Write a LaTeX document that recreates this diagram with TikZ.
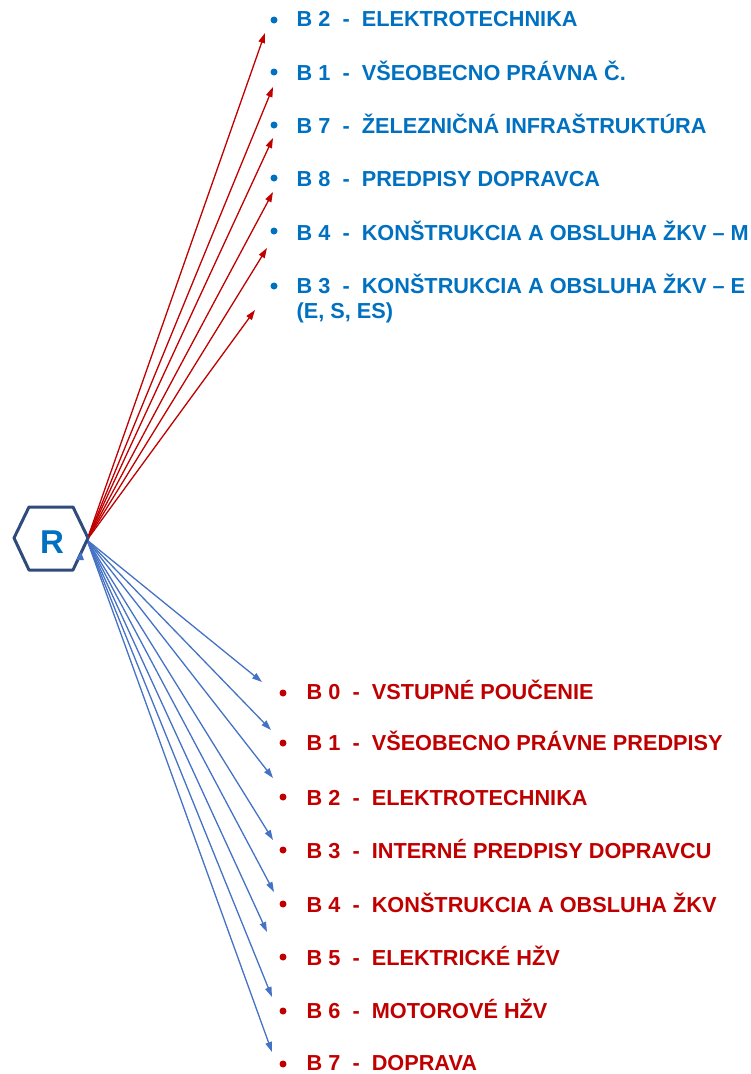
\documentclass[tikz,border=0pt]{standalone}
\usepackage{fontspec}
\setmainfont{Liberation Sans}
\usetikzlibrary{arrows.meta}
\definecolor{tblue}{HTML}{0070C0}
\definecolor{tred}{HTML}{C00000}
\definecolor{ablue}{HTML}{4472C4}
\definecolor{hexc}{HTML}{2F4B7C}
\newcommand{\gapsp}{\hspace{0.556em}}
\begin{document}
\begin{tikzpicture}[x=1pt,y=-1pt,
  lbl/.style={anchor=base west, inner sep=0pt, align=left,
    font=\fontsize{21.7}{25}\selectfont\bfseries},
  toplbl/.style={lbl, text=tblue},
  botlbl/.style={lbl, text=tred},
  bul/.style={circle, inner sep=0pt, minimum size=7pt},
  topbul/.style={bul, fill=tblue},
  botbul/.style={bul, fill=tred},
  redarr/.style={draw=tred, line width=1.3pt, -{Triangle[length=10pt,width=6.5pt]}},
  bluearr/.style={draw=ablue, line width=1.3pt, -{Triangle[length=10pt,width=6.5pt]}}]
\useasboundingbox (0,0) rectangle (751,1074);

% top list (blue)
\node[topbul] (tb1) at (274,20) {};
\node[toplbl] (tt1) at (296.5,26) {B 2\gapsp-\gapsp ELEKTROTECHNIKA};
\node[topbul] (tb2) at (274,72) {};
\node[toplbl] (tt2) at (296.5,80) {B 1\gapsp-\gapsp VŠEOBECNO PRÁVNA Č.};
\node[topbul] (tb3) at (274,125) {};
\node[toplbl] (tt3) at (296.5,133) {B 7\gapsp-\gapsp ŽELEZNIČNÁ INFRAŠTRUKTÚRA};
\node[topbul] (tb4) at (274,178) {};
\node[toplbl] (tt4) at (296.5,186) {B 8\gapsp-\gapsp PREDPISY DOPRAVCA};
\node[topbul] (tb5) at (274,231) {};
\node[toplbl] (tt5) at (296.5,240) {B 4\gapsp-\gapsp KONŠTRUKCIA A OBSLUHA ŽKV – M};
\node[topbul] (tb6) at (274,286) {};
\node[toplbl] (tt6) at (296.5,318) {B 3\gapsp-\gapsp KONŠTRUKCIA A OBSLUHA ŽKV – E\\(E, S, ES)};

% bottom list (red)
\node[botbul] (bb1) at (283,693) {};
\node[botlbl] (bt1) at (306.5,699) {B 0\gapsp-\gapsp VSTUPNÉ POUČENIE};
\node[botbul] (bb2) at (283,743) {};
\node[botlbl] (bt2) at (306.5,750) {B 1\gapsp-\gapsp VŠEOBECNO PRÁVNE PREDPISY};
\node[botbul] (bb3) at (283,797) {};
\node[botlbl] (bt3) at (306.5,805) {B 2\gapsp-\gapsp ELEKTROTECHNIKA};
\node[botbul] (bb4) at (283,850) {};
\node[botlbl] (bt4) at (306.5,858) {B 3\gapsp-\gapsp INTERNÉ PREDPISY DOPRAVCU};
\node[botbul] (bb5) at (283,904) {};
\node[botlbl] (bt5) at (306.5,912) {B 4\gapsp-\gapsp KONŠTRUKCIA A OBSLUHA ŽKV};
\node[botbul] (bb6) at (283,957) {};
\node[botlbl] (bt6) at (306.5,965) {B 5\gapsp-\gapsp ELEKTRICKÉ HŽV};
\node[botbul] (bb7) at (283,1011) {};
\node[botlbl] (bt7) at (306.5,1018) {B 6\gapsp-\gapsp MOTOROVÉ HŽV};
\node[botbul] (bb8) at (283,1064) {};
\node[botlbl] (bt8) at (306.5,1070) {B 7\gapsp-\gapsp DOPRAVA};

% arrow tips
\coordinate (src) at (87,540);
\coordinate (r1) at (265,33);
\coordinate (r2) at (273,87);
\coordinate (r3) at (273,138);
\coordinate (r4) at (273,192);
\coordinate (r5) at (267,248);
\coordinate (r6) at (255,310);
\coordinate (u1) at (262,682);
\coordinate (u2) at (271,730);
\coordinate (u3) at (273,778);
\coordinate (u4) at (273,840);
\coordinate (u5) at (274,892);
\coordinate (u6) at (267,932);
\coordinate (u7) at (272,997);
\coordinate (u8) at (272,1052);

\foreach \t in {r1,r2,r3,r4,r5,r6} \draw[redarr] (src) -- (\t);
\foreach \t in {u1,u2,u3,u4,u5,u6,u7,u8} \draw[bluearr] (src) -- (\t);

% hexagon
\draw[hexc, line width=3pt, fill=white, line join=round]
  (14,538) -- (29,507) -- (73,507) -- (88,538) -- (73,570) -- (29,570) -- cycle;
\node[inner sep=0pt, text=tblue, font=\fontsize{33}{33}\selectfont\bfseries] (r) at (52,542) {R};
\fill[ablue] (76,560) -- (84,560) -- (81,552) -- cycle;
\end{tikzpicture}
\end{document}
